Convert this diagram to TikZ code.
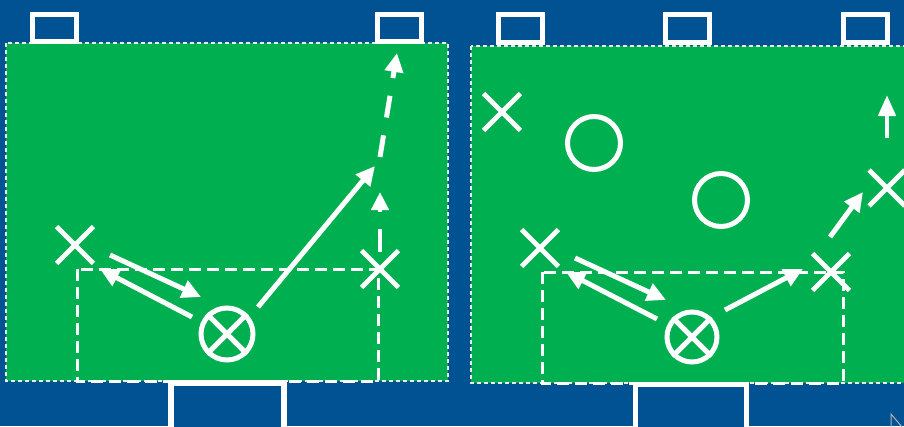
\documentclass[tikz,border=0pt]{standalone}
\usetikzlibrary{arrows.meta,shapes.misc}
\definecolor{pitchblue}{RGB}{0,82,147}
\definecolor{pitchgreen}{RGB}{0,176,80}
\tikzset{
  field/.style={fill=pitchgreen, draw=white!85!gray, line width=1.2pt, dash pattern=on 4pt off 3pt},
  goalbox/.style={draw=white, fill=pitchblue, line width=5pt},
  zone/.style={draw=white, line width=3pt, dash pattern=on 12pt off 6pt},
  playerx/.style={cross out, draw=white, line width=4.8pt, minimum size=32pt, inner sep=0pt},
  keeper/.style={circle, draw=white, line width=5pt, minimum size=52pt, inner sep=0pt},
  opp/.style={circle, draw=white, line width=5pt, minimum size=53pt, inner sep=0pt},
  move/.style={draw=white, line width=5pt, -{Triangle[length=19pt,width=18pt]}},
  run/.style={move, dash pattern=on 22pt off 18pt},
}
\begin{document}
\begin{tikzpicture}[x=1pt,y=-1pt]
\useasboundingbox (0,0) rectangle (904,426);
\fill[pitchblue] (0,0) rectangle (904,426);
% fields
\draw[field] (6,43) rectangle (448,381);
\draw[field] (471,46) rectangle (912,383);
% goals
\draw[goalbox] (32.5,14.5) rectangle (76.5,41.5);
\draw[goalbox] (377.5,14.5) rectangle (421.5,41.5);
\draw[goalbox] (498.5,14.5) rectangle (542.5,42.5);
\draw[goalbox] (665.5,14.5) rectangle (709.5,42.5);
\draw[goalbox] (843.5,14.5) rectangle (887.5,42.5);
\draw[goalbox, line width=6pt] (171,383) rectangle (284,432);
\draw[goalbox] (635.5,384.5) rectangle (746.5,432);
% zones
\draw[zone] (77,269) rectangle (378,381);
\draw[zone] (542,272) rectangle (843,383);
% left panel players
\node[playerx] (lx1) at (75,245) {};
\node[playerx] (lx2) at (380,269) {};
\node[keeper] (lk) at (227,334) {};
\draw[white, line width=5pt] (lk.45) -- (lk.225) (lk.135) -- (lk.-45);
% right panel players
\node[playerx] (rx1) at (502,112) {};
\node[playerx] (rx2) at (540,248) {};
\node[playerx] (rx3) at (831,272) {};
\node[playerx, minimum size=31pt] (rx4) at (887,188) {};
\node[opp] (ro1) at (594,143) {};
\node[opp] (ro2) at (721,200) {};
\node[keeper, minimum size=50pt] (rk) at (692,337) {};
\draw[white, line width=5pt] (rk.45) -- (rk.225) (rk.135) -- (rk.-45);
% arrow end points
\coordinate (l1a) at (110,255); \coordinate (l1b) at (201,297);
\coordinate (l2a) at (192,317); \coordinate (l2b) at (100,269);
\coordinate (l3a) at (258,307); \coordinate (l3b) at (375,166);
\coordinate (l4a) at (380,157); \coordinate (l4b) at (397,53);
\coordinate (l5a) at (380,252); \coordinate (l5b) at (380,192);
\coordinate (r1a) at (575,258); \coordinate (r1b) at (666,300);
\coordinate (r2a) at (657,319); \coordinate (r2b) at (566,272);
\coordinate (r3a) at (725,310); \coordinate (r3b) at (803,269);
\coordinate (r4a) at (830,237); \coordinate (r4b) at (863,192);
\coordinate (r5a) at (887,138); \coordinate (r5b) at (887,95);
% arrows
\draw[move] (l1a) -- (l1b);
\draw[move] (l2a) -- (l2b);
\draw[move] (l3a) -- (l3b);
\draw[run] (l4a) -- (l4b);
\draw[move, dash pattern=on 23pt off 17pt, line width=4.5pt, -{Triangle[length=18pt,width=17pt]}] (l5a) -- (l5b);
\draw[move] (r1a) -- (r1b);
\draw[move] (r2a) -- (r2b);
\draw[move] (r3a) -- (r3b);
\draw[move] (r4a) -- (r4b);
\draw[move, line width=4.5pt, -{Triangle[length=21pt,width=17pt]}] (r5a) -- (r5b);
% cursor mark
\coordinate (c1) at (891,414); \coordinate (c2) at (891,428); \coordinate (c3) at (902,427);
\draw[gray!60, line width=1pt] (c2) -- (c1) -- (c3);
\end{tikzpicture}
\end{document}
